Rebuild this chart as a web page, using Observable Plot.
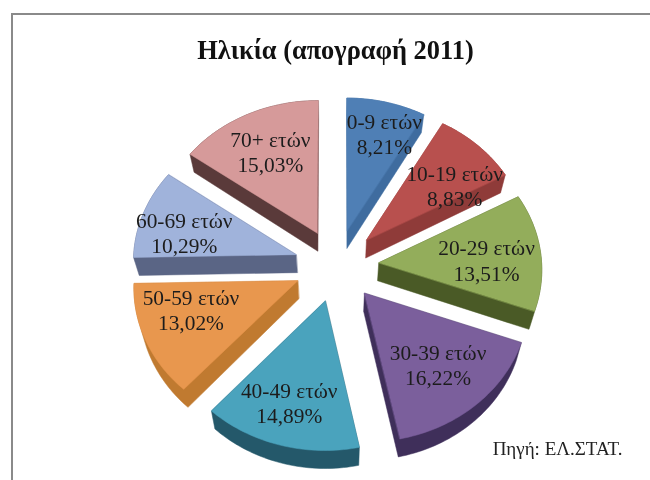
<!DOCTYPE html>
<html><head><meta charset="utf-8">
<script src="https://cdn.jsdelivr.net/npm/d3@7"></script>
<script src="https://cdn.jsdelivr.net/npm/@observablehq/plot@0.6"></script>
<style>
html,body{margin:0;padding:0;background:#fff;overflow:hidden}
#chart{position:relative;width:650px;height:480px}
#chart svg{display:block;position:absolute;left:0;top:0;filter:blur(0.35px)}
#frame{position:absolute;left:11px;top:13px;right:0;bottom:0;border-left:2.5px solid #8a8a8a;border-top:2.5px solid #8a8a8a}
</style></head><body>
<div id="chart"><div id="frame"></div></div>
<script>
const titleText = "Ηλικία (απογραφή 2011)";
const sourceText = "Πηγή: ΕΛ.ΣΤΑΤ.";
const ageGroups = ["0-9 ετών","10-19 ετών","20-29 ετών","30-39 ετών","40-49 ετών","50-59 ετών","60-69 ετών","70+ ετών"];
const shares = [8.21,8.83,13.51,16.22,14.89,13.02,10.29,15.03];
const shareLabels = ["8,21%","8,83%","13,51%","16,22%","14,89%","13,02%","10,29%","15,03%"];
const topColors = ["#4f7fb5","#b8504e","#93ad5b","#7b5f9c","#4aa3bd","#e8974e","#a0b3db","#d69a9a"];
const sideColors = ["#3f6c9f","#8f3b39","#4a5a26","#3f2f5a","#24586a","#c07a30","#5a6585","#5a3a3a"];
// layout of the drawing (not data)
const labelRadius = [0.97,0.91,0.92,0.95,1.025,0.95,0.96,0.89];
const labelTurn = [3.5,9,5,1.3,0.6,2.5,-6,-1];
const explode = 0.26, persp = 0.04, depth = 18/140.5, floorShrink = 0.972;

const W = 650, H = 480, R = 163, S = 140.5, cx = 336, cy = 265;
const total = d3.sum(shares);
const rad = d => d * Math.PI / 180;
let acc = 0;
const slices = shares.map((v, i) => {
  const a0 = acc / total * 360; acc += v;
  const a1 = acc / total * 360;
  return {i, a0, a1, mid: (a0 + a1) / 2};
});
// pie plane → perspective view, in pie units (the scales map these to the page)
function view(X, Y) {
  const f = 1 / (1 + persp * Y);
  return [X * f, Y * f];
}
function polar(s, r, a) {
  const X = explode * Math.sin(rad(s.mid)) + r * Math.sin(rad(a));
  const Y = explode * Math.cos(rad(s.mid)) + r * Math.cos(rad(a));
  return view(X, Y);
}
const topRows = [], sideRows = [];
for (const s of slices) {
  const outline = [polar(s, 0, s.a0)];
  d3.range(0, 41).forEach(k => outline.push(polar(s, 1, s.a0 + (s.a1 - s.a0) * k / 40)));
  outline.forEach(([x, y]) => topRows.push({id: s.i, x, y, color: topColors[s.i]}));
  const all = [...outline, ...outline.map(([x, y]) => [x * floorShrink, y - depth])];
  d3.polygonHull(all).forEach(([x, y]) => sideRows.push({id: s.i, x, y, color: sideColors[s.i]}));
}
const labels = slices.map(s => {
  const a = s.mid + labelTurn[s.i], r = labelRadius[s.i];
  const [x, y] = view(r * Math.sin(rad(a)), r * Math.cos(rad(a)));
  return {x, y, text: ageGroups[s.i] + "\n" + shareLabels[s.i]};
});

const poly = rows => Plot.line(rows, {x:"x", y:"y", z:"id", fill:"color", stroke:"color", strokeWidth:0.5, curve:"linear-closed"});
const chart = Plot.plot({
  width: W, height: H, margin: 0,
  style: {background: "transparent"},
  x: {axis: null, domain: [-cx / R, (W - cx) / R], range: [0, W]},
  y: {axis: null, domain: [(cy - H) / S, cy / S], range: [H, 0]},
  marks: [
    poly(sideRows),
    poly(topRows),
    Plot.text(labels, {x:"x", y:"y", dy:-7, text:"text", fontFamily:"Liberation Serif", fontSize:21.4, fill:"#1c1c1c", lineHeight:1.18}),
    Plot.text([titleText], {frameAnchor:"top", dx:10, dy:40, fontFamily:"Liberation Serif", fontWeight:"bold", fontSize:26.4, fill:"#111"}),
    Plot.text([sourceText], {frameAnchor:"bottom-right", dx:-28, dy:-26, fontFamily:"Liberation Serif", fontSize:19, fill:"#222"})
  ]
});
document.getElementById("chart").appendChild(chart);
</script>
</body></html>
